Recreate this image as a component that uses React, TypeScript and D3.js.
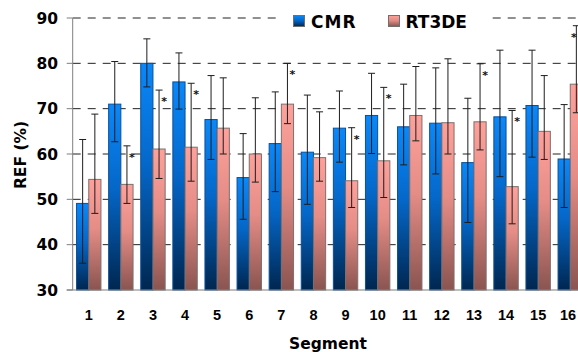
import React from "react";
import * as d3 from "d3";

const segments = ["1","2","3","4","5","6","7","8","9","10","11","12","13","14","15","16"];
const seriesNames = ["CMR", "RT3DE"];
const cmr = [49.1, 71.0, 80.0, 75.9, 67.6, 54.8, 62.3, 60.4, 65.7, 68.5, 66.0, 66.8, 58.1, 68.2, 70.7, 58.9];
const cmrHi = [63.2, 80.4, 85.4, 82.3, 77.3, 64.5, 73.7, 73.0, 73.9, 77.8, 75.4, 79.0, 72.3, 82.9, 82.9, 70.9];
const cmrLo = [35.9, 62.7, 74.8, 69.9, 58.8, 45.6, 51.7, 48.9, 58.2, 60.1, 57.6, 55.6, 44.9, 55.0, 59.3, 48.2];
const rt = [54.4, 53.3, 61.1, 61.5, 65.7, 60.0, 71.0, 59.2, 54.1, 58.5, 68.5, 66.9, 67.1, 52.8, 65.0, 75.4];
const rtHi = [68.8, 61.8, 74.1, 75.6, 76.8, 72.4, 80.0, 69.3, 65.8, 74.7, 79.3, 81.0, 79.9, 69.6, 77.3, 88.3];
const rtLo = [46.9, 49.1, 54.6, 54.0, 60.0, 53.8, 66.7, 54.0, 48.2, 50.4, 62.9, 60.0, 60.9, 44.6, 58.8, 69.1];
const significant = ["2","3","4","7","9","10","13","14","16"];
const yTicks = [30, 40, 50, 60, 70, 80, 90];

const FONT = "'DejaVu Sans', Verdana, sans-serif";
const FONT2 = "'Liberation Sans', Arial, sans-serif";

export default function App() {
  const W = 578, H = 352;
  const left = 72.7, right = 586.3, top = 18, bottom = 290;
  const x = d3.scaleBand<string>().domain(segments).range([left, right]).paddingInner(0.24).paddingOuter(0.12);
  const xs = d3.scaleBand<string>().domain(seriesNames).range([0, x.bandwidth()]);
  const y = d3.scaleLinear().domain([30, 90]).range([bottom, top]);

  const series = [
    { name: "CMR", vals: cmr, hi: cmrHi, lo: cmrLo, fill: "url(#gBlue)", stroke: "#0a4f9a" },
    { name: "RT3DE", vals: rt, hi: rtHi, lo: rtLo, fill: "url(#gPink)", stroke: "#7d6f6e" },
  ];
  const cap = 3.5;

  return (
    <svg width={W} height={H} style={{ position: "absolute", left: 0, top: 0, background: "#fff" }}>
      <defs>
        <linearGradient id="gBlue" x1="0" y1="0" x2="0" y2="1">
          <stop offset="0" stopColor="#0a88fa" />
          <stop offset="0.45" stopColor="#0567c8" />
          <stop offset="1" stopColor="#00264f" />
        </linearGradient>
        <linearGradient id="gPink" x1="0" y1="0" x2="0" y2="1">
          <stop offset="0" stopColor="#ffa19b" />
          <stop offset="0.45" stopColor="#e48c86" />
          <stop offset="1" stopColor="#8a5450" />
        </linearGradient>
      </defs>

      {/* gridlines */}
      {yTicks.filter(t => t > 30).map(t => (
        <line key={"g" + t} x1={left} x2={W} y1={y(t)} y2={y(t)} stroke="#222" strokeWidth={1} strokeDasharray="8,7" />
      ))}

      {/* bars */}
      {series.map(s => segments.map((seg, i) => {
        const bx = (x(seg) as number) + (xs(s.name) as number);
        return (
          <rect key={s.name + seg} x={bx} y={y(s.vals[i])} width={xs.bandwidth()} height={bottom - y(s.vals[i])}
            fill={s.fill} stroke={s.stroke} strokeWidth={1} />
        );
      }))}

      {/* error bars */}
      {series.map(s => segments.map((seg, i) => {
        const cx = (x(seg) as number) + (xs(s.name) as number) + xs.bandwidth() / 2;
        return (
          <g key={"e" + s.name + seg} stroke="#1e1e1e" strokeWidth={1}>
            <line x1={cx} x2={cx} y1={y(s.hi[i])} y2={y(s.lo[i])} />
            <line x1={cx - cap} x2={cx + cap} y1={y(s.hi[i])} y2={y(s.hi[i])} />
            <line x1={cx - cap} x2={cx + cap} y1={y(s.lo[i])} y2={y(s.lo[i])} />
          </g>
        );
      }))}

      {/* significance asterisks */}
      {significant.map(seg => {
        const i = segments.indexOf(seg);
        const cx = (x(seg) as number) + (xs("RT3DE") as number) + xs.bandwidth() / 2;
        return (
          <text key={"s" + seg} x={Math.min(cx + 5, 574)} y={y(rtHi[i]) + 15} fontFamily={FONT} fontWeight="bold" fontSize={11} textAnchor="middle" fill="#111">*</text>
        );
      })}

      {/* axes */}
      <line x1={left} x2={left} y1={top} y2={bottom} stroke="#7f7f7f" strokeWidth={1} />
      <line x1={left - 6} x2={W} y1={bottom} y2={bottom} stroke="#7f7f7f" strokeWidth={1} />
      {yTicks.map(t => (
        <g key={"t" + t}>
          <line x1={left - 6} x2={left} y1={y(t)} y2={y(t)} stroke="#7f7f7f" strokeWidth={1} />
          <text x={58} y={y(t) + 5.7} textAnchor="end" fontFamily={FONT} fontWeight="bold" fontSize={15.5} fill="#000">{t}</text>
        </g>
      ))}
      {segments.map(seg => (
        <text key={"x" + seg} x={Math.min((x(seg) as number) + x.bandwidth() / 2, 568)} y={320} textAnchor="middle" fontFamily={FONT2} fontWeight="bold" fontSize={14.5} fill="#000">{seg}</text>
      ))}

      <text x={328} y={349} textAnchor="middle" fontFamily={FONT} fontWeight="bold" fontSize={15.5} fill="#000">Segment</text>
      <text transform="translate(26,155) rotate(-90)" textAnchor="middle" fontFamily={FONT} fontWeight="bold" fontSize={15.5} fill="#000">REF (%)</text>

      {/* legend */}
      <rect x={277} y={6} width={210} height={26} fill="#fff" />
      <rect x={293.5} y={15.5} width={11} height={11} fill="url(#gBlue)" stroke="#6f6f6f" strokeWidth={1} />
      <text x={311} y={27.5} fontFamily={FONT} fontWeight="bold" fontSize={17} fill="#000" letterSpacing={1}>{seriesNames[0]}</text>
      <rect x={388.5} y={15.5} width={11} height={11} fill="url(#gPink)" stroke="#6f6f6f" strokeWidth={1} />
      <text x={405.5} y={27.5} fontFamily={FONT} fontWeight="bold" fontSize={17} fill="#000">{seriesNames[1]}</text>
    </svg>
  );
}
